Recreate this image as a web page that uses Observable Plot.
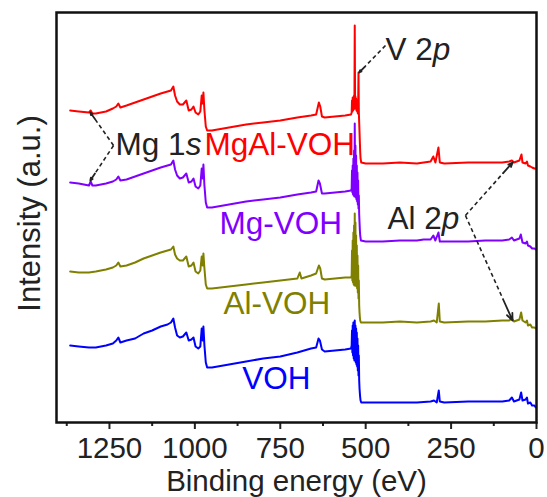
<!DOCTYPE html>
<html><head><meta charset="utf-8">
<script src="https://cdn.jsdelivr.net/npm/d3@7"></script>
<script src="https://cdn.jsdelivr.net/npm/@observablehq/plot@0.6"></script>
<style>body{margin:0;background:#fff}</style>
</head><body><div id="chart"></div>
<script>
// ---- data (binding energy eV, intensity a.u. with vertical stacking offset) ----
const seriesNames = ["VOH", "Al-VOH", "Mg-VOH", "MgAl-VOH"];
const seriesColors = ["#0000ff", "#808000", "#8000ff", "#ff0000"];
const xTicks = [0, 250, 500, 750, 1000, 1250];
const xMinorTicks = [125, 375, 625, 875, 1125, 1375];

const specVOH = [
[1365,77],[1340,76],[1310,75],[1290,75],[1260,77],[1240,79],[1230,82],[1224,85],[1218,80],[1200,82],[1175,84],[1150,89],[1125,92],[1100,96],[1080,98],[1070,100],[1063,104],[1058,95],[1052,87],[1044,85],[1035,86],[1025,90],[1018,82],[1010,83],[1004,85],[998,76],[990,74],[984,76],[980,94],[977,82],[975,96],[972,77],[968,60],[964,55],[950,55],[900,58],[850,61],[800,64],[750,66],[700,70],[660,74],[645,75],[638,84],[634,82],[628,73],[620,71],[590,72],[560,73],[543,74],
[541,77],[540,92],[539,70],[538,97],[537,67],[536,100],[535,64],[534,99],[533,62],[532,102],[531,64],[530,97],[529,60],[528,94],[527,58],[526,90],[525,56],[524,84],[523,52],[522,77],[521,47],[520,67],[519,42],[518,34],[517,29],[516,25],[515,22],[513,20],
[500,20],[450,20],[400,20],[350,20],[310,21],[300,22],[292,20],[286,32],[283,21],[270,20],[200,21],[150,21],[100,21],[80,22],[72,25],[66,21],[50,23],[45,30],[41,22],[32,23],[28,25],[25,19],[18,20],[13,17],[6,17],[2,15]
];
const specAlVOH = [
[1365,151],[1340,150],[1310,150],[1290,151],[1260,153],[1240,155],[1230,157],[1224,160],[1218,156],[1200,157],[1175,160],[1150,164],[1125,167],[1100,170],[1080,172],[1070,173],[1063,176],[1058,168],[1052,164],[1044,162],[1035,162],[1025,166],[1018,156],[1010,157],[1004,160],[998,151],[990,149],[984,152],[980,166],[977,157],[975,169],[972,154],[968,138],[964,134],[950,134],[900,136],[850,138],[800,140],[750,142],[700,144],[693,150],[688,144],[660,147],[645,149],[637,157],[633,154],[628,144],[620,143],[590,144],[560,145],[543,145],
[541,147],[540,172],[539,142],[538,182],[537,140],[536,190],[535,138],[534,197],[533,137],[532,209],[531,138],[530,200],[529,137],[528,187],[527,136],[526,177],[525,134],[524,167],[523,130],[522,157],[521,124],[520,142],[519,117],[518,110],[517,105],[516,102],[514,100],
[500,100],[450,100],[400,101],[350,100],[310,101],[300,102],[292,100],[286,119],[283,101],[270,100],[200,101],[150,101],[100,102],[80,102],[72,104],[66,101],[50,103],[45,110],[41,102],[32,100],[28,102],[25,97],[18,98],[13,95],[6,95],[2,94]
];
const specMgVOH = [
[1365,240],[1340,239],[1310,237],[1305,241],[1300,237],[1290,237],[1260,239],[1240,241],[1230,243],[1224,246],[1218,242],[1200,243],[1175,246],[1150,249],[1125,252],[1100,255],[1080,257],[1070,258],[1063,262],[1058,253],[1052,247],[1044,244],[1035,245],[1025,249],[1018,240],[1010,241],[1004,244],[998,236],[990,234],[984,237],[980,254],[977,244],[975,258],[972,237],[968,220],[964,215],[950,215],[900,218],[850,221],[800,223],[750,225],[700,228],[660,230],[645,231],[638,242],[634,239],[628,229],[620,229],[590,230],[560,231],[543,232],
[541,234],[540,252],[539,230],[538,257],[537,228],[536,264],[535,227],[534,272],[533,226],[532,299],[531,227],[530,277],[529,225],[528,267],[527,223],[526,257],[525,221],[524,250],[523,218],[522,242],[521,214],[520,227],[519,208],[518,200],[517,192],[516,187],[514,182],
[500,181],[450,181],[400,182],[350,182],[330,183],[310,183],[302,187],[296,182],[287,190],[283,181],[270,181],[200,181],[150,182],[100,182],[80,183],[72,185],[66,182],[50,184],[46,188],[41,180],[32,179],[28,181],[25,177],[18,176],[13,174],[6,174],[2,173]
];
const specMgAlVOH = [
[1365,312],[1340,311],[1310,310],[1305,312],[1300,309],[1290,309],[1260,311],[1240,314],[1230,316],[1224,319],[1218,315],[1200,317],[1175,320],[1150,323],[1125,326],[1100,329],[1080,331],[1070,332],[1063,336],[1058,327],[1052,321],[1044,318],[1035,318],[1025,322],[1018,312],[1010,313],[1004,316],[998,310],[990,308],[984,311],[980,327],[977,319],[975,330],[972,312],[968,296],[964,292],[950,292],[900,295],[850,298],[800,300],[750,302],[700,305],[660,307],[645,308],[637,320],[633,316],[628,306],[620,305],[590,306],[560,307],[543,308],
[541,310],[540,322],[539,311],[538,325],[537,312],[536,324],[535,313],[534,327],[533,314],[532,397],[531,316],[530,326],[529,314],[528,324],[527,312],[526,322],[525,311],[524,320],[523,309],[522,318],[521,350],[520,310],[519,300],[518,290],[517,280],[516,270],[515,264],[513,260],
[500,259],[450,259],[400,260],[350,259],[330,260],[310,261],[302,266],[296,260],[287,275],[283,260],[270,259],[200,260],[150,260],[100,260],[80,261],[72,262],[66,260],[50,262],[44,268],[41,260],[32,259],[28,261],[25,257],[18,256],[13,255],[6,254],[2,254]
];
const spectra = [specVOH, specAlVOH, specMgVOH, specMgAlVOH];

// tidy table for Plot
const rows = spectra.flatMap((s, i) => s.map(([e, v]) => ({e, v, s: seriesNames[i]})));

const dash = "4,3";
function dashedArrow(x1, y1, x2, y2) {
  const f = 0.8;
  const xm = x1 + (x2 - x1) * f, ym = y1 + (y2 - y1) * f;
  return [
    Plot.link([0], {x1, y1, x2: xm, y2: ym, stroke: "#222", strokeWidth: 1.6, strokeDasharray: dash}),
    Plot.arrow([0], {x1: xm, y1: ym, x2, y2, stroke: "#222", strokeWidth: 1.8, headLength: 9, headAngle: 45})
  ];
}
const labelFont = 31.5;
function label(t, x, y, color) {
  return Plot.text([t], {x, y, text: d => d, fill: color, textAnchor: "start", lineAnchor: "bottom", fontSize: labelFont});
}

const chart = Plot.plot({
  width: 547,
  height: 497,
  marginLeft: 56,
  marginRight: 11,
  marginTop: 12,
  marginBottom: 75,
  style: {fontFamily: "'Liberation Sans', Arial, sans-serif", fontSize: "29px", background: "#fff", color: "#222"},
  x: {domain: [1405, 0]},
  y: {domain: [0, 410], axis: null},
  color: {domain: seriesNames, range: seriesColors},
  marks: [
    Plot.axisX({ticks: xMinorTicks, tickSize: 4, strokeWidth: 2, text: null, label: null}),
    Plot.axisX({ticks: xTicks, tickSize: 7, tickPadding: 8, strokeWidth: 2, tickFormat: d => String(d), label: null, fill: "#222", fontSize: 29.5}),
    ...seriesNames.map(n => Plot.line(rows.filter(r => r.s === n), {x: "e", y: "v", stroke: seriesColors[seriesNames.indexOf(n)], strokeWidth: 2, curve: "linear"})),
    Plot.frame({stroke: "#111", strokeWidth: 2.5}),
    label("Mg 1s", 1232, 268, "#222"),
    label("MgAl-VOH", 972, 268, seriesColors[3]),
    label("Mg-VOH", 928, 189, seriesColors[2]),
    label("Al-VOH", 916, 109, seriesColors[1]),
    label("VOH", 861, 34, seriesColors[0]),
    label("V 2p", 442, 363, "#222"),
    label("Al 2p", 436, 194, "#222"),
    ...dashedArrow(1238, 277, 1306, 310),
    ...dashedArrow(1238, 277, 1306, 242),
    ...dashedArrow(442, 377, 519, 350),
    ...dashedArrow(208, 207, 70, 260),
    ...dashedArrow(208, 207, 70, 102),
    Plot.text(["Binding energy (eV)"], {frameAnchor: "bottom", dy: 68.5, lineAnchor: "bottom", textAnchor: "middle", fill: "#222", fontSize: 29.5}),
    Plot.text(["Intensity (a.u.)"], {frameAnchor: "left", rotate: -90, dx: -17, dy: -4, lineAnchor: "bottom", textAnchor: "middle", fill: "#222", fontSize: 31})
  ]
});

// italic subshell letters
const italics = {"V 2p": ["V 2", "p"], "Al 2p": ["Al 2", "p"], "Mg 1s": ["Mg 1", "s"]};
d3.select(chart).selectAll("text").each(function() {
  const parts = italics[this.textContent];
  if (parts) {
    const t = d3.select(this);
    t.text(null);
    t.append("tspan").text(parts[0]);
    t.append("tspan").attr("font-style", "italic").text(parts[1]);
  }
});
document.getElementById("chart").appendChild(chart);
</script></body></html>
